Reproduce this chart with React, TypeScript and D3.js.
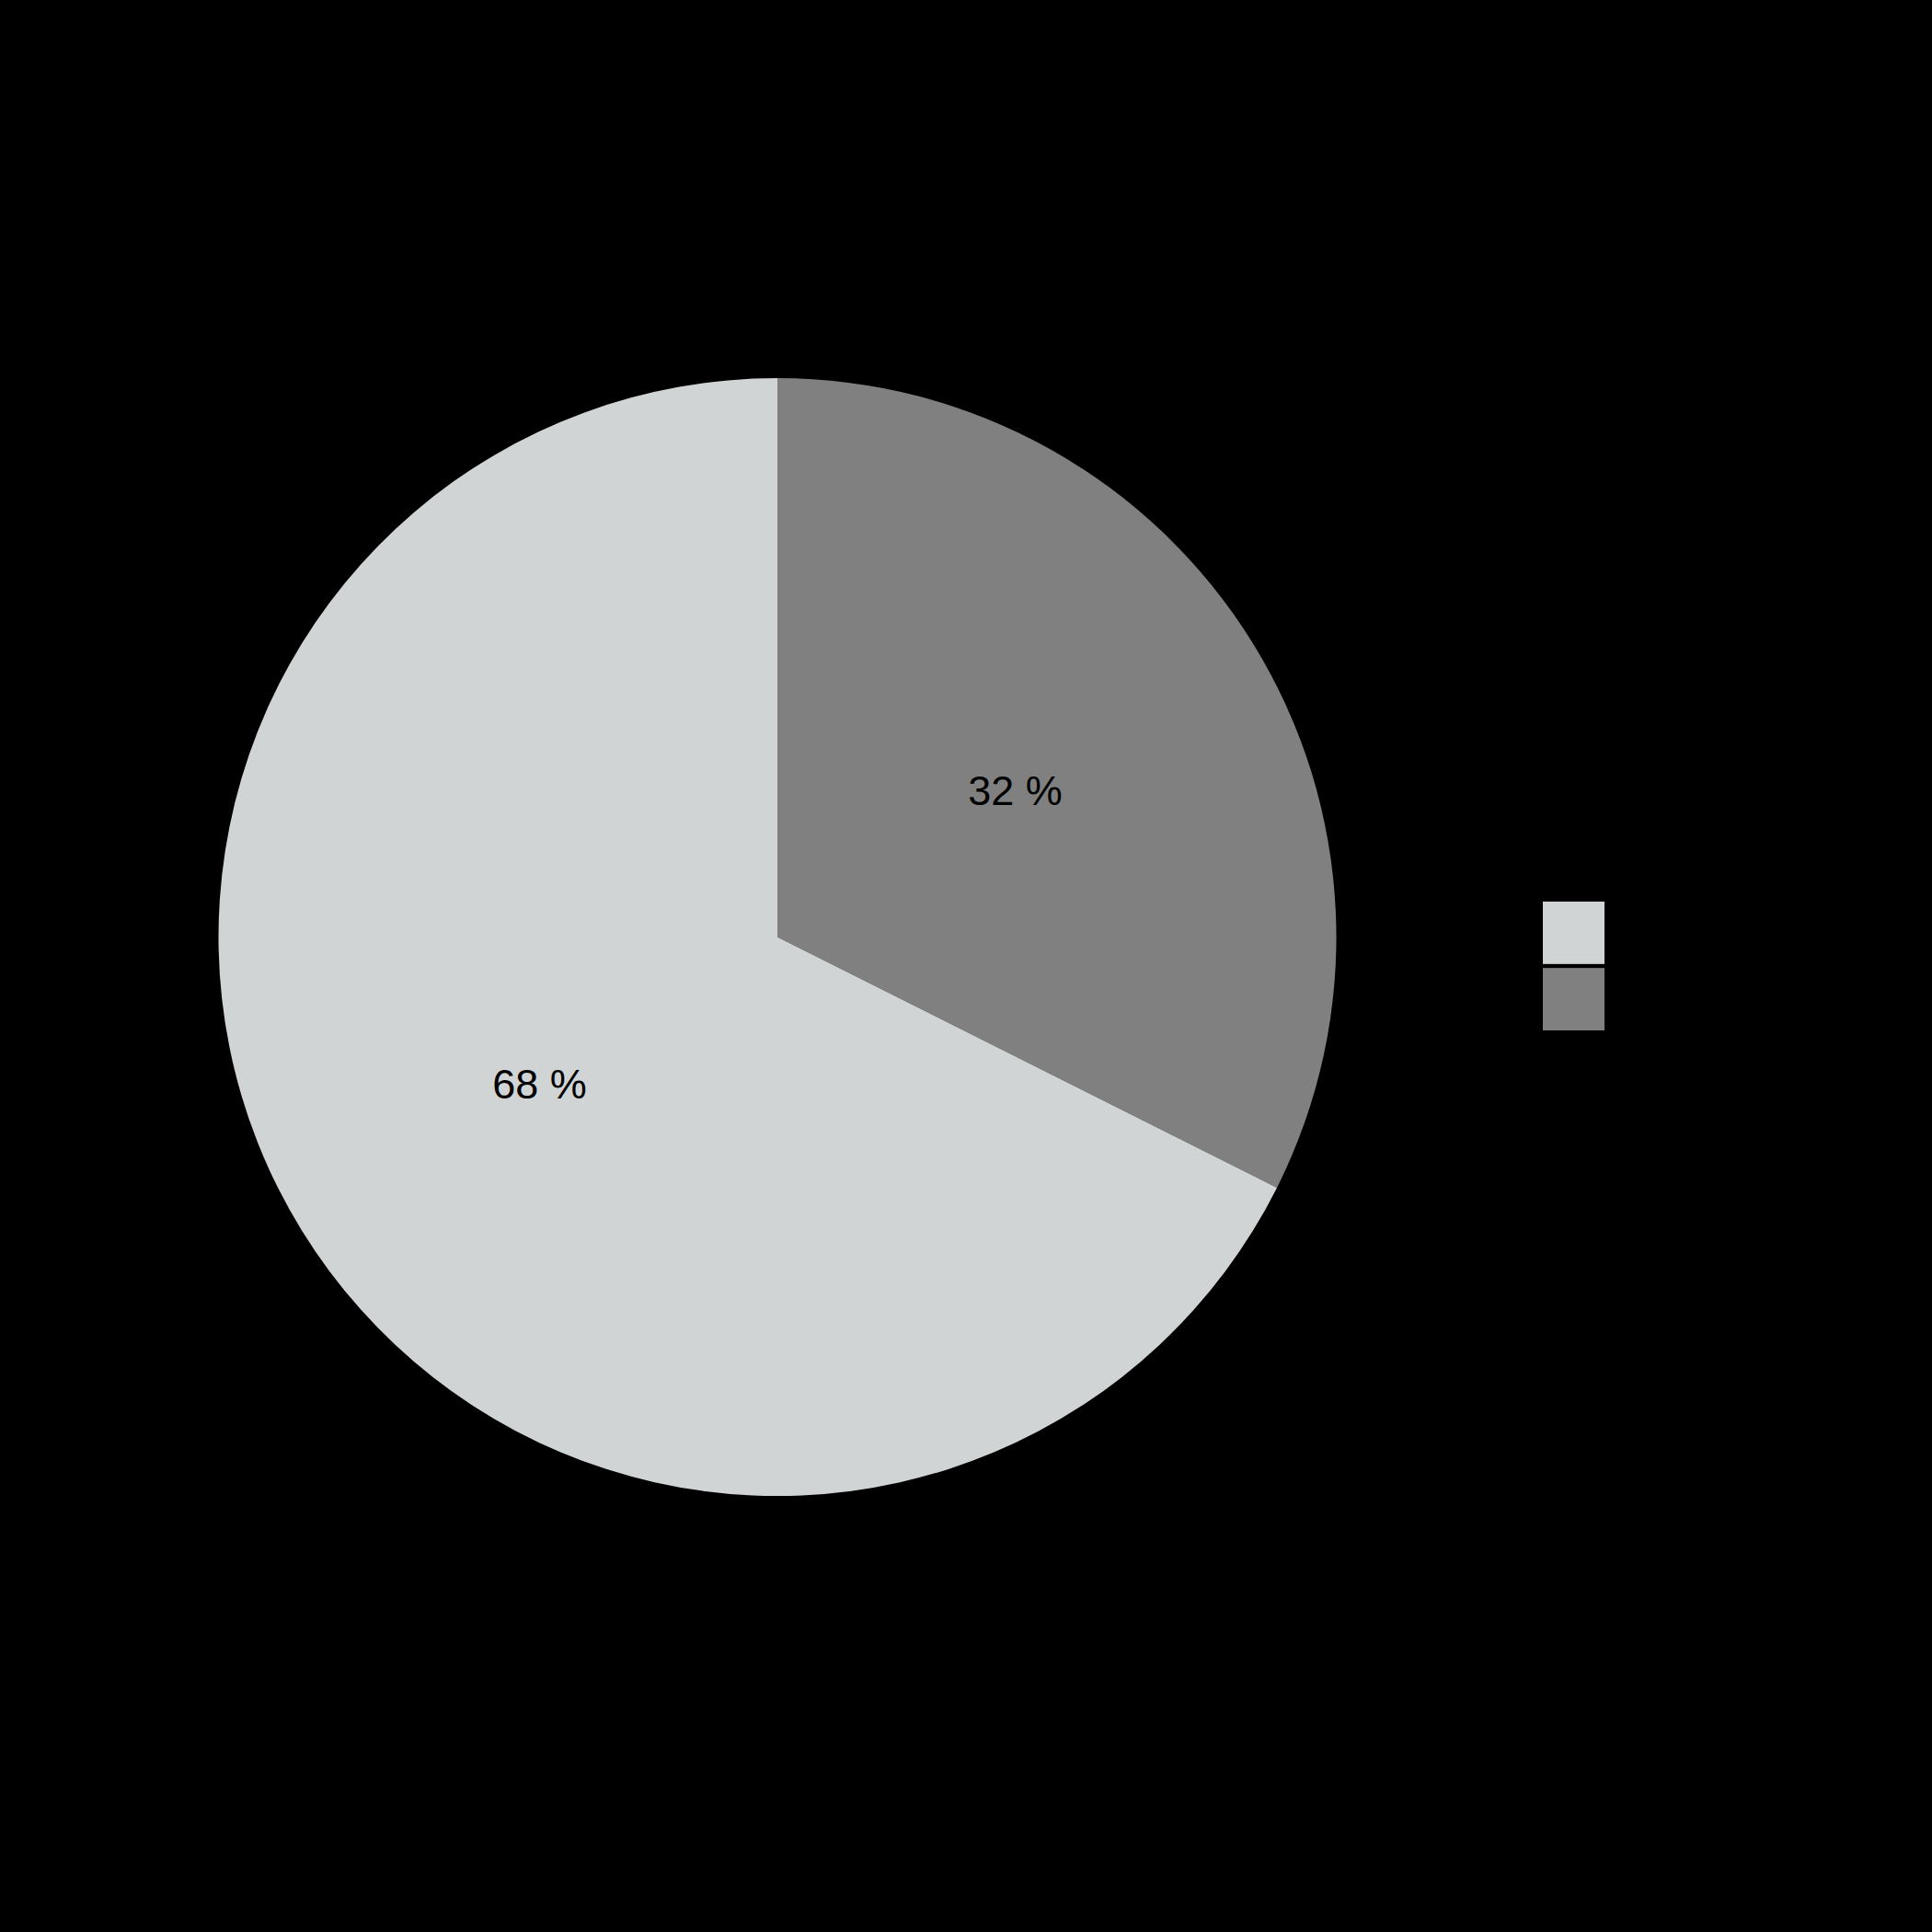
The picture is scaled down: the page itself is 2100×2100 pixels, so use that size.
import React, { useEffect, useRef } from 'react'
import * as d3 from 'd3'

const categories = ['B', 'A']
const values = [32.4, 67.6]
const colors = ['#808080', '#D0D4D5']
const legendOrder = ['A', 'B']

const W = 2100
const H = 2100

const App = () => {
  const svgRef = useRef<SVGSVGElement>(null)

  useEffect(() => {
    document.body.style.margin = '0'
    const svg = d3.select(svgRef.current)
    svg.selectAll('*').remove()

    svg.append('rect').attr('width', W).attr('height', H).attr('fill', '#000')

    const cx = 845
    const cy = 1018.5
    const r = 607.5

    const color = d3.scaleOrdinal<string, string>().domain(categories).range(colors)

    const pie = d3.pie<number>().sort(null).value(d => d)
    const arcs = pie(values)
    const arc = d3.arc<d3.PieArcDatum<number>>().innerRadius(0).outerRadius(r)
    const labelArc = d3.arc<d3.PieArcDatum<number>>().innerRadius(r / 2).outerRadius(r / 2)

    const g = svg.append('g').attr('transform', `translate(${cx},${cy})`)

    g.selectAll('.slice')
      .data(arcs)
      .join('path')
      .attr('class', 'slice')
      .attr('d', arc)
      .attr('fill', (d, i) => color(categories[i]))

    g.selectAll('.label')
      .data(arcs)
      .join('text')
      .attr('class', 'label')
      .attr('transform', d => `translate(${labelArc.centroid(d)})`)
      .attr('text-anchor', 'middle')
      .attr('dy', '0.35em')
      .attr('font-family', 'Liberation Sans, Arial, sans-serif')
      .attr('font-size', 45)
      .attr('fill', '#000')
      .text(d => `${Math.round(d.data)} %`)

    // legend
    const legendY = d3.scaleBand().domain(legendOrder).range([980, 1120]).paddingInner(0.06)
    const legend = svg.append('g')
    legend.selectAll('rect')
      .data(legendOrder)
      .join('rect')
      .attr('x', 1677)
      .attr('y', d => legendY(d)!)
      .attr('width', 67)
      .attr('height', legendY.bandwidth())
      .attr('fill', d => color(d))
  }, [])

  return <svg ref={svgRef} width={W} height={H} style={{ display: 'block' }} />
}

export default App
